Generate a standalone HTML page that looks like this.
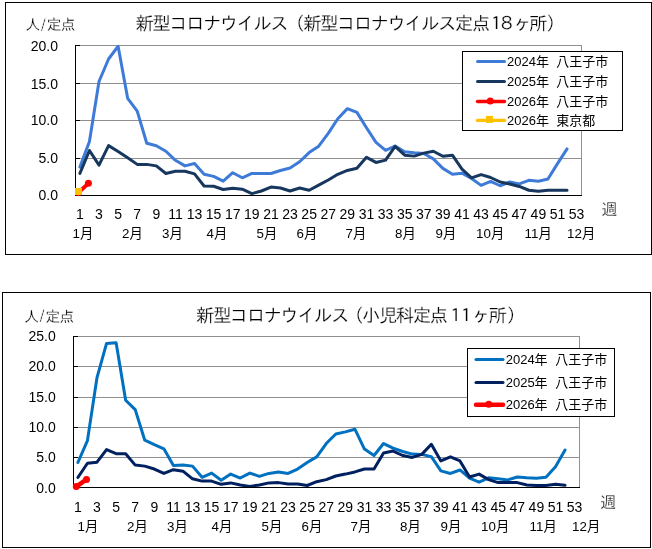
<!DOCTYPE html>
<html lang="ja"><head><meta charset="utf-8"><title>新型コロナウイルス 定点報告グラフ</title>
<style>
html,body{margin:0;padding:0;background:#fff;}
body{width:652px;height:549px;overflow:hidden;}
svg{display:block;will-change:transform;}
.ui{font-family:'Liberation Sans','Noto Sans CJK JP',sans-serif;}
.go{font-family:'Liberation Sans','IPAGothic','Noto Sans CJK JP',sans-serif;stroke:#fff;stroke-width:0.22px;}
.tick{font-size:14px;fill:#000;}
.mon{font-size:13.33px;fill:#000;}
.leg{font-size:13px;fill:#000;}
.ttl{font-size:18.5px;fill:#000;letter-spacing:-1.65px;}
.unit{font-size:15px;fill:#000;}
.wk{font-size:16px;fill:#000;}
.ln{fill:none;stroke-width:3;stroke-linejoin:round;stroke-linecap:round;}
.cr{shape-rendering:crispEdges;}
</style></head><body>
<svg width="652" height="549" viewBox="0 0 652 549">
<rect x="0" y="0" width="652" height="549" fill="#fff"/>
<g class="cr">
<rect x="5.5" y="2.5" width="646" height="252" fill="#fff" stroke="#000" stroke-width="1"/>
<rect x="76" y="45" width="506" height="1" fill="#909090"/>
<rect x="76" y="83" width="506" height="1" fill="#909090"/>
<rect x="76" y="120" width="506" height="1" fill="#909090"/>
<rect x="76" y="158" width="506" height="1" fill="#909090"/>
<rect x="581" y="45" width="1" height="151" fill="#909090"/>
</g>
<polyline class="ln" stroke="#3e7ad8" points="79.90,167.00 89.45,141.50 99.00,81.50 108.56,59.00 118.11,46.25 127.66,98.30 137.21,111.12 146.76,143.22 156.32,145.78 165.87,151.25 175.42,160.32 184.97,165.88 194.52,163.55 204.08,174.20 213.63,176.38 223.18,181.18 232.73,172.70 242.28,177.80 251.84,173.45 261.39,173.45 270.94,173.45 280.49,170.53 290.04,168.05 299.60,161.75 309.15,152.60 318.70,146.15 328.25,133.32 337.80,118.70 347.36,108.65 356.91,112.40 366.46,127.70 376.01,142.32 385.56,150.35 395.12,146.00 404.67,151.78 414.22,152.75 423.77,153.50 433.32,158.82 442.88,168.35 452.43,174.20 461.98,173.15 471.53,178.55 481.08,185.38 490.64,181.47 500.19,185.75 509.74,182.00 519.29,183.88 528.84,180.28 538.40,181.18 547.95,179.00 557.50,163.62 567.05,148.93"/>
<polyline class="ln" stroke="#17375e" points="79.90,173.45 89.45,150.50 99.00,165.12 108.56,145.62 118.11,151.55 127.66,157.85 137.21,164.38 146.76,164.38 156.32,165.88 165.87,173.45 175.42,171.28 184.97,171.28 194.52,173.90 204.08,185.97 213.63,186.28 223.18,189.50 232.73,188.30 242.28,189.20 251.84,193.62 261.39,191.00 270.94,187.03 280.49,188.00 290.04,191.00 299.60,188.00 309.15,190.25 318.70,185.07 328.25,179.97 337.80,174.28 347.36,170.45 356.91,168.28 366.46,157.32 376.01,162.43 385.56,160.10 395.12,146.38 404.67,155.15 414.22,156.12 423.77,153.12 433.32,151.25 442.88,156.28 452.43,155.22 461.98,169.10 471.53,177.80 481.08,174.57 490.64,177.50 500.19,182.00 509.74,183.95 519.29,186.43 528.84,190.25 538.40,191.22 547.95,190.25 557.50,190.25 567.05,190.25"/>
<g class="cr">
<rect x="75" y="45" width="1" height="151" fill="#000"/>
<rect x="75" y="195" width="507" height="1" fill="#000"/>
<rect x="76" y="45" width="4" height="1" fill="#000"/>
<rect x="76" y="83" width="4" height="1" fill="#000"/>
<rect x="76" y="120" width="4" height="1" fill="#000"/>
<rect x="76" y="158" width="4" height="1" fill="#000"/>
</g>
<polyline class="ln" style="stroke-width:3.8" stroke="#ff0000" points="78.5,192.5 88.4,183.3"/>
<circle cx="78.5" cy="192.5" r="3.5" fill="#ff0000"/>
<circle cx="88.4" cy="183.3" r="3.5" fill="#ff0000"/>
<rect x="75" y="188" width="7" height="7" fill="#ffc000"/>
<text class="ui tick" x="58" y="50.5" text-anchor="end">20.0</text>
<text class="ui tick" x="58" y="88.5" text-anchor="end">15.0</text>
<text class="ui tick" x="58" y="124.9" text-anchor="end">10.0</text>
<text class="ui tick" x="58" y="162.8" text-anchor="end">5.0</text>
<text class="ui tick" x="58" y="199.8" text-anchor="end">0.0</text>
<text class="ui tick" x="79.90" y="219" text-anchor="middle">1</text>
<text class="ui tick" x="99.00" y="219" text-anchor="middle">3</text>
<text class="ui tick" x="118.11" y="219" text-anchor="middle">5</text>
<text class="ui tick" x="137.21" y="219" text-anchor="middle">7</text>
<text class="ui tick" x="156.32" y="219" text-anchor="middle">9</text>
<text class="ui tick" x="175.42" y="219" text-anchor="middle">11</text>
<text class="ui tick" x="194.52" y="219" text-anchor="middle">13</text>
<text class="ui tick" x="213.63" y="219" text-anchor="middle">15</text>
<text class="ui tick" x="232.73" y="219" text-anchor="middle">17</text>
<text class="ui tick" x="251.84" y="219" text-anchor="middle">19</text>
<text class="ui tick" x="270.94" y="219" text-anchor="middle">21</text>
<text class="ui tick" x="290.04" y="219" text-anchor="middle">23</text>
<text class="ui tick" x="309.15" y="219" text-anchor="middle">25</text>
<text class="ui tick" x="328.25" y="219" text-anchor="middle">27</text>
<text class="ui tick" x="347.36" y="219" text-anchor="middle">29</text>
<text class="ui tick" x="366.46" y="219" text-anchor="middle">31</text>
<text class="ui tick" x="385.56" y="219" text-anchor="middle">33</text>
<text class="ui tick" x="404.67" y="219" text-anchor="middle">35</text>
<text class="ui tick" x="423.77" y="219" text-anchor="middle">37</text>
<text class="ui tick" x="442.88" y="219" text-anchor="middle">39</text>
<text class="ui tick" x="461.98" y="219" text-anchor="middle">41</text>
<text class="ui tick" x="481.08" y="219" text-anchor="middle">43</text>
<text class="ui tick" x="500.19" y="219" text-anchor="middle">45</text>
<text class="ui tick" x="519.29" y="219" text-anchor="middle">47</text>
<text class="ui tick" x="538.40" y="219" text-anchor="middle">49</text>
<text class="ui tick" x="557.50" y="219" text-anchor="middle">51</text>
<text class="ui tick" x="576.60" y="219" text-anchor="middle">53</text>
<text class="ui mon" x="72.6" y="238.3">1月</text>
<text class="ui mon" x="122.1" y="238.3">2月</text>
<text class="ui mon" x="162.1" y="238.3">3月</text>
<text class="ui mon" x="206.6" y="238.3">4月</text>
<text class="ui mon" x="256.6" y="238.3">5月</text>
<text class="ui mon" x="296.6" y="238.3">6月</text>
<text class="ui mon" x="345.6" y="238.3">7月</text>
<text class="ui mon" x="395.1" y="238.3">8月</text>
<text class="ui mon" x="435.6" y="238.3">9月</text>
<text class="ui mon" x="476.1" y="238.3">10月</text>
<text class="ui mon" x="524.6" y="238.3">11月</text>
<text class="ui mon" x="567.1" y="238.3">12月</text>
<text class="go wk" x="601.3" y="214.8">週</text>
<text class="go unit" x="25.2" y="30.3"><tspan letter-spacing="-1">人</tspan><tspan dx="1.6" dy="0.6" font-size="19" stroke-width="0.75">/</tspan><tspan dx="0.4" dy="-0.6" letter-spacing="-1">定点</tspan></text>
<text class="go ttl" x="135.5" y="29.7">新型コロナウイルス<tspan dx="-0.8">（新型コロナウイルス定点</tspan><tspan x="487.05">１</tspan><tspan x="497.55">８</tspan><tspan x="513">ヶ</tspan><tspan x="528.95">所</tspan><tspan x="546.2">）</tspan></text>
<rect class="cr" x="462.5" y="51.5" width="160" height="79" fill="#fff" stroke="#000" stroke-width="1"/>
<line x1="477.5" y1="61.5" x2="504.5" y2="61.5" stroke="#3e7ad8" stroke-width="3" stroke-linecap="round"/>
<text class="ui leg" x="507" y="66.1">2024年 <tspan x="556.3">八王子市</tspan></text>
<line x1="477.5" y1="81.5" x2="504.5" y2="81.5" stroke="#17375e" stroke-width="3" stroke-linecap="round"/>
<text class="ui leg" x="507" y="86.1">2025年 <tspan x="556.3">八王子市</tspan></text>
<line x1="477.5" y1="101.5" x2="504.5" y2="101.5" stroke="#ff0000" stroke-width="3.4" stroke-linecap="round"/>
<circle cx="490.2" cy="101.1" r="3.5" fill="#ff0000"/>
<text class="ui leg" x="507" y="106.1">2026年 <tspan x="556.3">八王子市</tspan></text>
<line x1="477.5" y1="120.4" x2="504.5" y2="120.4" stroke="#ffc000" stroke-width="3.4" stroke-linecap="round"/>
<rect x="486" y="115.9" width="7" height="7" fill="#ffc000"/>
<text class="ui leg" x="507" y="125">2026年 <tspan x="556.3">東京都</tspan></text>
<g class="cr">
<rect x="2.5" y="292.5" width="648" height="255" fill="#fff" stroke="#000" stroke-width="1"/>
<rect x="74" y="336" width="506" height="1" fill="#909090"/>
<rect x="74" y="366" width="506" height="1" fill="#909090"/>
<rect x="74" y="397" width="506" height="1" fill="#909090"/>
<rect x="74" y="427" width="506" height="1" fill="#909090"/>
<rect x="74" y="457" width="506" height="1" fill="#909090"/>
<rect x="579" y="336" width="1" height="152" fill="#909090"/>
</g>
<polyline class="ln" stroke="#0070c0" points="77.90,462.49 87.45,440.63 97.00,377.57 106.56,343.39 116.11,342.84 125.66,400.22 135.21,409.58 144.76,440.21 154.32,444.68 163.87,448.84 173.42,465.39 182.97,465.09 192.52,466.12 202.08,477.29 211.63,473.12 221.18,480.19 230.73,474.09 240.28,478.02 249.84,473.12 259.39,476.33 268.94,473.43 278.49,471.92 288.04,473.43 297.60,469.02 307.15,462.49 316.70,456.88 326.25,443.53 335.80,433.99 345.36,431.87 354.91,429.21 364.46,449.03 374.01,455.49 383.56,443.53 393.12,448.18 402.67,451.50 412.22,454.10 421.77,454.40 431.32,456.70 440.88,470.89 450.43,473.43 459.98,469.98 469.53,478.20 479.08,482.12 488.64,477.78 498.19,478.68 507.74,479.89 517.29,476.99 526.84,477.78 536.40,478.20 545.95,477.29 555.50,466.78 565.05,450.11"/>
<polyline class="ln" stroke="#002060" points="77.90,477.47 87.45,463.22 97.00,462.19 106.56,449.63 116.11,453.68 125.66,453.68 135.21,465.09 144.76,466.12 154.32,469.02 163.87,473.43 173.42,469.68 182.97,471.19 192.52,478.80 202.08,481.10 211.63,481.10 221.18,484.30 230.73,482.91 240.28,485.02 249.84,486.47 259.39,485.02 268.94,482.91 278.49,482.61 288.04,484.00 297.60,484.00 307.15,485.51 316.70,481.70 326.25,479.59 335.80,476.02 345.36,474.09 354.91,471.92 364.46,469.02 374.01,469.02 383.56,453.01 393.12,451.08 402.67,455.49 412.22,457.42 421.77,454.40 431.32,444.31 440.88,460.98 450.43,456.88 459.98,460.98 469.53,476.99 479.08,474.09 488.64,479.59 498.19,482.61 507.74,482.61 517.29,482.61 526.84,485.02 536.40,485.51 545.95,485.51 555.50,484.30 565.05,485.33"/>
<g class="cr">
<rect x="73" y="336" width="1" height="152" fill="#000"/>
<rect x="73" y="487" width="507" height="1" fill="#000"/>
<rect x="74" y="336" width="4" height="1" fill="#000"/>
<rect x="74" y="366" width="4" height="1" fill="#000"/>
<rect x="74" y="397" width="4" height="1" fill="#000"/>
<rect x="74" y="427" width="4" height="1" fill="#000"/>
<rect x="74" y="457" width="4" height="1" fill="#000"/>
</g>
<polyline class="ln" style="stroke-width:4.5" stroke="#ff0000" points="76.3,486.6 86.5,479.4"/>
<circle cx="76.3" cy="486.6" r="3.5" fill="#ff0000"/>
<circle cx="86.5" cy="479.4" r="3.5" fill="#ff0000"/>
<text class="ui tick" x="55.7" y="340.7" text-anchor="end">25.0</text>
<text class="ui tick" x="55.7" y="370.7" text-anchor="end">20.0</text>
<text class="ui tick" x="55.7" y="401.6" text-anchor="end">15.0</text>
<text class="ui tick" x="55.7" y="431.9" text-anchor="end">10.0</text>
<text class="ui tick" x="55.7" y="461.9" text-anchor="end">5.0</text>
<text class="ui tick" x="55.7" y="492.7" text-anchor="end">0.0</text>
<text class="ui tick" x="77.90" y="511.5" text-anchor="middle">1</text>
<text class="ui tick" x="97.00" y="511.5" text-anchor="middle">3</text>
<text class="ui tick" x="116.11" y="511.5" text-anchor="middle">5</text>
<text class="ui tick" x="135.21" y="511.5" text-anchor="middle">7</text>
<text class="ui tick" x="154.32" y="511.5" text-anchor="middle">9</text>
<text class="ui tick" x="173.42" y="511.5" text-anchor="middle">11</text>
<text class="ui tick" x="192.52" y="511.5" text-anchor="middle">13</text>
<text class="ui tick" x="211.63" y="511.5" text-anchor="middle">15</text>
<text class="ui tick" x="230.73" y="511.5" text-anchor="middle">17</text>
<text class="ui tick" x="249.84" y="511.5" text-anchor="middle">19</text>
<text class="ui tick" x="268.94" y="511.5" text-anchor="middle">21</text>
<text class="ui tick" x="288.04" y="511.5" text-anchor="middle">23</text>
<text class="ui tick" x="307.15" y="511.5" text-anchor="middle">25</text>
<text class="ui tick" x="326.25" y="511.5" text-anchor="middle">27</text>
<text class="ui tick" x="345.36" y="511.5" text-anchor="middle">29</text>
<text class="ui tick" x="364.46" y="511.5" text-anchor="middle">31</text>
<text class="ui tick" x="383.56" y="511.5" text-anchor="middle">33</text>
<text class="ui tick" x="402.67" y="511.5" text-anchor="middle">35</text>
<text class="ui tick" x="421.77" y="511.5" text-anchor="middle">37</text>
<text class="ui tick" x="440.88" y="511.5" text-anchor="middle">39</text>
<text class="ui tick" x="459.98" y="511.5" text-anchor="middle">41</text>
<text class="ui tick" x="479.08" y="511.5" text-anchor="middle">43</text>
<text class="ui tick" x="498.19" y="511.5" text-anchor="middle">45</text>
<text class="ui tick" x="517.29" y="511.5" text-anchor="middle">47</text>
<text class="ui tick" x="536.40" y="511.5" text-anchor="middle">49</text>
<text class="ui tick" x="555.50" y="511.5" text-anchor="middle">51</text>
<text class="ui tick" x="574.60" y="511.5" text-anchor="middle">53</text>
<text class="ui mon" x="77.6" y="531.3">1月</text>
<text class="ui mon" x="127.1" y="531.3">2月</text>
<text class="ui mon" x="167.1" y="531.3">3月</text>
<text class="ui mon" x="211.6" y="531.3">4月</text>
<text class="ui mon" x="261.6" y="531.3">5月</text>
<text class="ui mon" x="301.6" y="531.3">6月</text>
<text class="ui mon" x="350.6" y="531.3">7月</text>
<text class="ui mon" x="400.1" y="531.3">8月</text>
<text class="ui mon" x="440.6" y="531.3">9月</text>
<text class="ui mon" x="481.1" y="531.3">10月</text>
<text class="ui mon" x="529.6" y="531.3">11月</text>
<text class="ui mon" x="572.1" y="531.3">12月</text>
<text class="go wk" x="600" y="507.6">週</text>
<text class="go unit" x="24" y="321.6"><tspan letter-spacing="-1">人</tspan><tspan dx="1.6" dy="0.6" font-size="19" stroke-width="0.75">/</tspan><tspan dx="0.4" dy="-0.6" letter-spacing="-1">定点</tspan></text>
<text class="go ttl" x="196.1" y="322.1">新型コロナウイルス<tspan dx="-2.5">（小児科定点</tspan><tspan x="446.55">１</tspan><tspan x="457.05">１</tspan><tspan x="471.5">ヶ</tspan><tspan x="488.45">所</tspan><tspan x="506.7">）</tspan></text>
<rect class="cr" x="467.5" y="348.5" width="147" height="68" fill="#fff" stroke="#000" stroke-width="1"/>
<line x1="476" y1="359.4" x2="503" y2="359.4" stroke="#0070c0" stroke-width="3" stroke-linecap="round"/>
<text class="ui leg" x="505.7" y="364">2024年 <tspan x="555.2">八王子市</tspan></text>
<line x1="476" y1="382.4" x2="503" y2="382.4" stroke="#002060" stroke-width="3" stroke-linecap="round"/>
<text class="ui leg" x="505.7" y="387">2025年 <tspan x="555.2">八王子市</tspan></text>
<line x1="476" y1="404.7" x2="503" y2="404.7" stroke="#ff0000" stroke-width="4.5" stroke-linecap="round"/>
<circle cx="488.7" cy="404.3" r="3.5" fill="#ff0000"/>
<text class="ui leg" x="505.7" y="409.3">2026年 <tspan x="555.2">八王子市</tspan></text>
</svg>
</body></html>
